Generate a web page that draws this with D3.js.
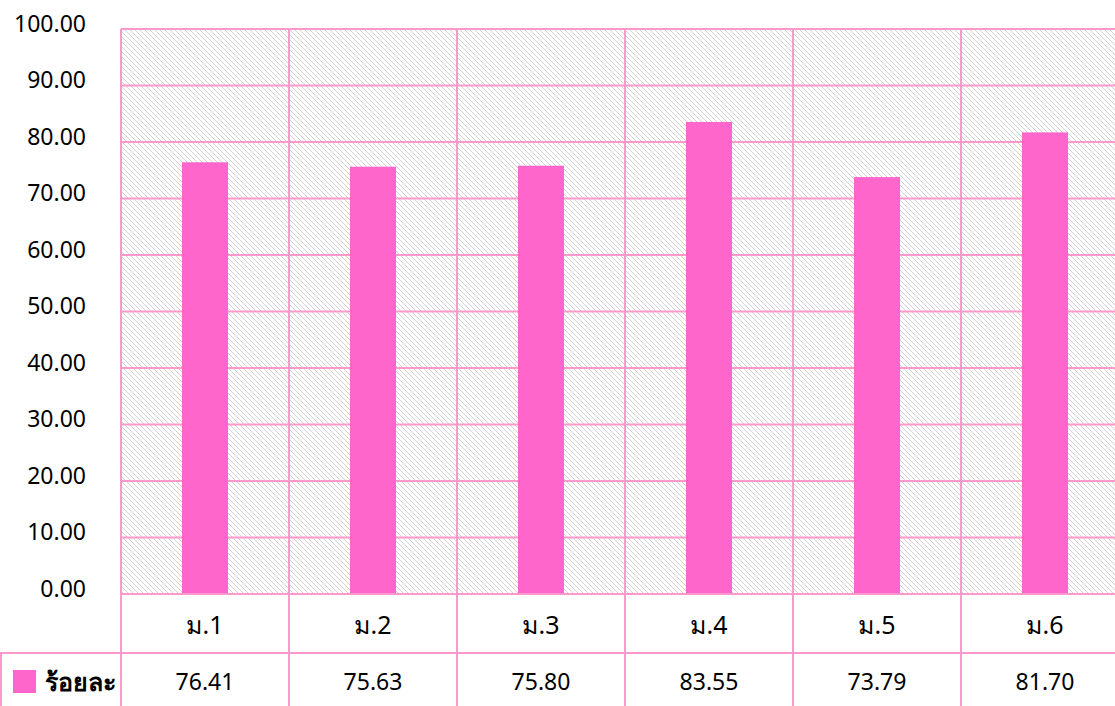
<!DOCTYPE html>
<html><head><meta charset="utf-8">
<script src="https://cdn.jsdelivr.net/npm/d3@7"></script>
<style>
html,body{margin:0;padding:0;background:#fff;}
svg{display:block;font-family:Tahoma,"Noto Sans","DejaVu Sans",sans-serif;}
</style></head>
<body>
<svg id="chart" width="1115" height="706"></svg>
<script>
const categories = ["ม.1","ม.2","ม.3","ม.4","ม.5","ม.6"];
const values = [76.41, 75.63, 75.80, 83.55, 73.79, 81.70];
const yTicks = [0,10,20,30,40,50,60,70,80,90,100];
const seriesName = "ร้อยละ";

(function(){
const svg = d3.select("#chart");
const pLeft = 121, pRight = 1129, pTop = 29, pBottom = 594, row1 = 653, row2 = 706;
const grid = "#ff99cc", barColor = "#ff66cc";

const x = d3.scaleBand().domain(categories).range([pLeft, pRight]).padding(0);
const y = d3.scaleLinear().domain([0, 100]).range([pBottom, pTop]);

const defs = svg.append("defs");
const P = 5;
const pat = defs.append("pattern").attr("id","hatch").attr("patternUnits","userSpaceOnUse")
  .attr("width",P).attr("height",P);
pat.append("rect").attr("width",P).attr("height",P).attr("fill","#fff");
d3.range(P).forEach(i=>{
  pat.append("rect").attr("x",i).attr("y",i).attr("width",1).attr("height",1).attr("fill","#d2d2d2");
});

svg.append("rect").attr("x",pLeft).attr("y",pTop).attr("width",pRight-pLeft).attr("height",pBottom-pTop).attr("fill","url(#hatch)");

svg.append("g").selectAll("line").data(yTicks).join("line")
  .attr("x1",pLeft).attr("x2",pRight).attr("y1",d=>y(d)).attr("y2",d=>y(d))
  .attr("stroke",grid).attr("stroke-width",2);

const bw = 46;
svg.append("g").selectAll("rect").data(values).join("rect")
  .attr("x",(d,i)=>x(categories[i]) + (x.bandwidth()-bw)/2)
  .attr("y",d=>y(d)).attr("width",bw).attr("height",d=>y(0)-y(d))
  .attr("fill",barColor);

svg.append("line").attr("x1",pLeft).attr("x2",pRight).attr("y1",pBottom).attr("y2",pBottom).attr("stroke",grid).attr("stroke-width",2);
svg.append("line").attr("x1",0).attr("x2",pRight).attr("y1",row1).attr("y2",row1).attr("stroke",grid).attr("stroke-width",2);
svg.append("line").attr("x1",1).attr("x2",1).attr("y1",row1).attr("y2",row2).attr("stroke",grid).attr("stroke-width",2);
const bounds = categories.map(c=>x(c)).concat([pRight]);
svg.append("g").selectAll("line").data(bounds).join("line")
  .attr("x1",d=>d).attr("x2",d=>d).attr("y1",pTop).attr("y2",row2)
  .attr("stroke",grid).attr("stroke-width",2);

const yAxis = svg.append("g").attr("transform",`translate(${pLeft},0)`)
  .call(d3.axisLeft(y).tickValues(yTicks).tickFormat(d3.format(".2f")).tickSize(0).tickPadding(35));
yAxis.select(".domain").remove();
yAxis.selectAll("text").attr("font-size",23).attr("fill","#000").attr("dy","0.1em")
  .style("font-family","Tahoma,'Noto Sans','DejaVu Sans',sans-serif");

svg.append("g").selectAll("text").data(categories).join("text")
  .attr("x",d=>x(d)+x.bandwidth()/2).attr("y",(pBottom+row1)/2)
  .attr("text-anchor","middle").attr("dominant-baseline","central")
  .attr("font-size",25).attr("fill","#000").text(d=>d);

svg.append("g").selectAll("text").data(values).join("text")
  .attr("x",(d,i)=>x(categories[i])+x.bandwidth()/2).attr("y",(row1+row2)/2+1)
  .attr("text-anchor","middle").attr("dominant-baseline","central")
  .attr("font-size",23).attr("fill","#000").text(d=>d3.format(".2f")(d));

svg.append("rect").attr("x",13).attr("y",670).attr("width",23).attr("height",23).attr("fill",barColor);
svg.append("text").attr("x",45).attr("y",(row1+row2)/2+1).attr("dominant-baseline","central")
  .attr("font-size",25).attr("font-weight","bold").attr("fill","#000").text(seriesName);
})();
</script>
</body></html>
